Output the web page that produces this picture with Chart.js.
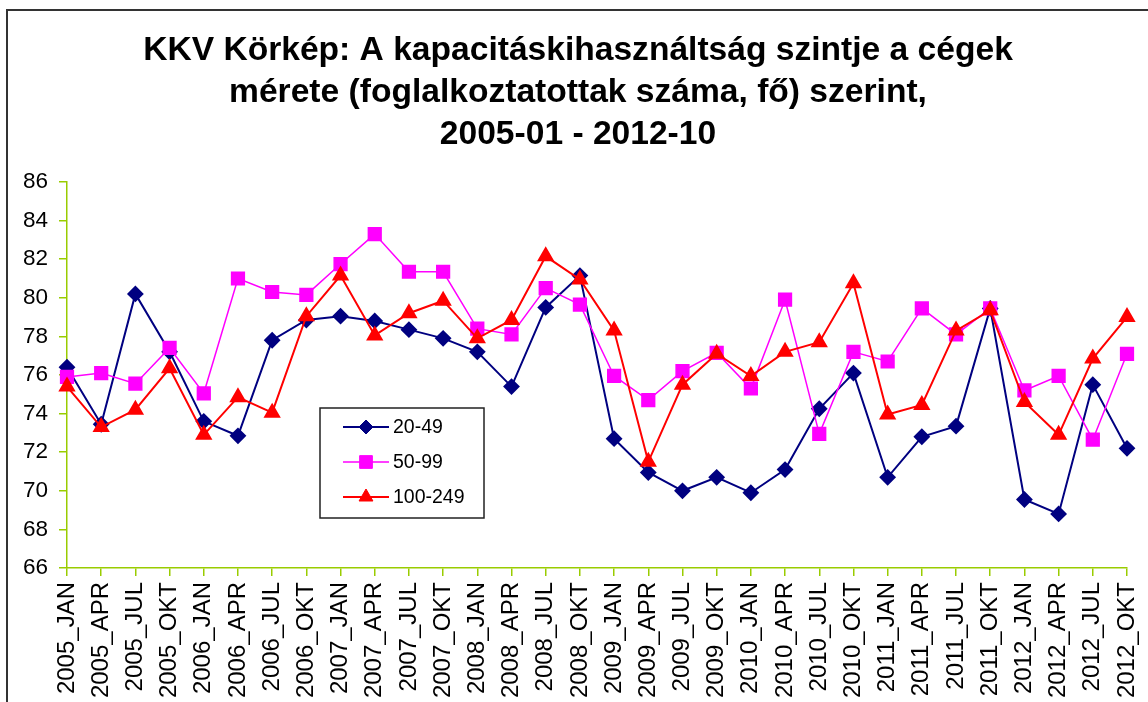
<!DOCTYPE html>
<html><head><meta charset="utf-8">
<script src="https://cdn.jsdelivr.net/npm/chart.js@4.4.1/dist/chart.umd.min.js"></script>
<style>html,body{margin:0;padding:0;background:#fff;}#wrap{width:1148px;height:702px;position:relative;overflow:hidden;}</style>
</head><body><div id="wrap"><canvas id="c" width="1148" height="702"></canvas></div>
<script>
const categories = ["2005_JAN","2005_APR","2005_JUL","2005_OKT","2006_JAN","2006_APR","2006_JUL","2006_OKT",
  "2007_JAN","2007_APR","2007_JUL","2007_OKT","2008_JAN","2008_APR","2008_JUL","2008_OKT",
  "2009_JAN","2009_APR","2009_JUL","2009_OKT","2010_JAN","2010_APR","2010_JUL","2010_OKT",
  "2011_JAN","2011_APR","2011_JUL","2011_OKT","2012_JAN","2012_APR","2012_JUL","2012_OKT"];
const values_20_49 = [76.4,73.45,80.2,77.2,73.6,72.85,77.8,78.85,79.05,78.8,78.35,77.9,77.2,75.4,79.5,81.15,
  72.7,70.95,70.0,70.7,69.9,71.1,74.25,76.1,70.7,72.8,73.35,79.45,69.55,68.8,75.5,72.2];
const values_50_99 = [75.9,76.1,75.55,77.4,75.05,81.0,80.3,80.15,81.75,83.3,81.35,81.35,78.4,78.1,80.5,79.65,
  75.95,74.7,76.2,77.15,75.3,79.9,72.95,77.2,76.7,79.45,78.1,79.45,75.2,75.95,72.65,77.1];
const values_100_249 = [75.4,73.3,74.2,76.35,72.9,74.85,74.05,79.05,81.15,78.05,79.2,79.85,77.9,78.85,82.15,80.95,
  78.3,71.5,75.5,77.1,75.95,77.2,77.7,80.75,73.95,74.45,78.3,79.35,74.6,72.9,76.85,79.0];
const seriesNames = ["20-49","50-99","100-249"];
const yMin = 66, yMax = 86, yStep = 2;
const titleLines = ["KKV Körkép: A kapacitáskihasználtság szintje a cégek",
  "mérete (foglalkoztatottak száma, fő) szerint,",
  "2005-01 - 2012-10"];

const FONT = "'Liberation Sans', Arial, sans-serif";
const AXIS = "#99cc00";

const framePlugin = {
  id: 'frame',
  afterLayout(chart) {
    if (chart.titleBlock) { chart.titleBlock.left = 29; chart.titleBlock.right = 1127; }
  },
  beforeDraw(chart) {
    const ctx = chart.ctx;
    ctx.save();
    ctx.fillStyle = '#fff';
    ctx.fillRect(0, 0, chart.width, chart.height);
    ctx.strokeStyle = '#333';
    ctx.lineWidth = 2;
    ctx.strokeRect(7, 10, chart.width + 20, chart.height + 20);
    ctx.restore();
  }
};

const legendPlugin = {
  id: 'boxLegend',
  afterDraw(chart) {
    const ctx = chart.ctx;
    ctx.save();
    ctx.strokeStyle = '#222';
    ctx.lineWidth = 1.5;
    ctx.strokeRect(320, 408, 164, 110);
    const rows = [427, 462, 497];
    chart.data.datasets.forEach((ds, i) => {
      const y = rows[i];
      ctx.strokeStyle = ds.borderColor;
      ctx.lineWidth = ds.borderWidth;
      ctx.beginPath(); ctx.moveTo(343, y); ctx.lineTo(389, y); ctx.stroke();
      ctx.fillStyle = ds.pointBackgroundColor;
      ctx.strokeStyle = ds.pointBorderColor;
      ctx.lineWidth = 1;
      Chart.helpers.drawPoint(ctx, {pointStyle: ds.pointStyle, radius: ds.pointRadius, borderWidth: 1, rotation: 0}, 366, y);
      ctx.fillStyle = '#000';
      ctx.font = "19.5px " + FONT;
      ctx.textBaseline = 'middle';
      ctx.textAlign = 'left';
      ctx.fillText(ds.label, 393, y + 1);
    });
    ctx.restore();
  }
};

new Chart(document.getElementById('c'), {
  type: 'line',
  data: {
    labels: categories,
    datasets: [
      {label: seriesNames[0], data: values_20_49, borderColor: '#000080', borderWidth: 2,
       pointStyle: 'rectRot', pointRadius: 7, pointBackgroundColor: '#000080', pointBorderColor: '#000080', order: 3},
      {label: seriesNames[1], data: values_50_99, borderColor: '#ff00ff', borderWidth: 1.5,
       pointStyle: 'rect', pointRadius: 9, pointBackgroundColor: '#ff00ff', pointBorderColor: '#ff00ff', order: 2},
      {label: seriesNames[2], data: values_100_249, borderColor: '#ff0000', borderWidth: 2,
       pointStyle: 'triangle', pointRadius: 8, pointBackgroundColor: '#ff0000', pointBorderColor: '#ff0000', order: 1}
    ]
  },
  options: {
    responsive: false,
    animation: false,
    tension: 0,
    layout: {padding: {left: 0, right: 21, top: 0, bottom: 0}},
    plugins: {
      legend: {display: false},
      tooltip: {enabled: false},
      title: {
        display: true,
        text: titleLines,
        color: '#000',
        font: {family: FONT, size: 33.6, weight: 'bold', lineHeight: 42/33.6},
        padding: {top: 30, bottom: 26}
      }
    },
    scales: {
      x: {
        offset: false,
        grid: {display: true, drawOnChartArea: false, drawTicks: true, tickLength: 8, color: AXIS, lineWidth: 1.5},
        border: {display: true, color: AXIS, width: 1.5},
        ticks: {autoSkip: false, minRotation: 90, maxRotation: 90, padding: 6, color: '#000',
                font: {family: FONT, size: 24}},
        afterFit(scale) { scale.height = 134; scale.paddingRight = 0; scale.paddingLeft = 0; }
      },
      y: {
        min: yMin, max: yMax,
        grid: {display: true, drawOnChartArea: false, drawTicks: true, tickLength: 8, color: AXIS, lineWidth: 1.5},
        border: {display: true, color: AXIS, width: 1.5},
        ticks: {stepSize: yStep, padding: 11, color: '#000', font: {family: FONT, size: 22.5}},
        afterFit(scale) { scale.width = 67; scale.paddingTop = 0; scale.paddingBottom = 0; }
      }
    }
  },
  plugins: [framePlugin, legendPlugin]
});
</script>
</body></html>
